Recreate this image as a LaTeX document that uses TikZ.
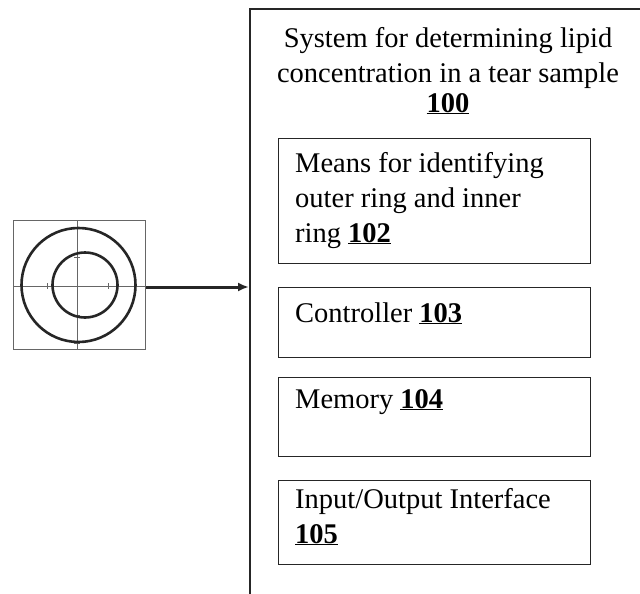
\documentclass[tikz,border=0pt]{standalone}
\usepackage{fontspec}
\setmainfont{Liberation Serif}
\usetikzlibrary{arrows.meta}
\newcommand{\refnum}[1]{\underline{\textbf{#1}}}
\begin{document}
\begin{tikzpicture}[x=1pt,y=-1pt,
  unitbox/.style={draw=black!85, line width=1.4pt, minimum width=312pt, anchor=north west, inner sep=0pt},
  label/.style={anchor=base west, inner sep=0pt, align=left, font=\fontsize{28.5}{35}\selectfont},
  ring/.style={line width=2.6pt, black!85},
  axis/.style={line width=0.6pt, black!60},
  tick/.style={line width=0.5pt, black!60}]
\useasboundingbox (0,0) rectangle (640,594);
\clip (0,0) rectangle (640,594);

% plot of the two rings
\node[draw=black!60, line width=0.9pt, minimum width=132pt, minimum height=129pt,
      anchor=north west, inner sep=0pt] (img) at (13,220) {};
\draw[axis] (13,286) -- (145,286);
\draw[axis] (77,220) -- (77,349);
\foreach \t in {22,47,108,135} \draw[tick] (\t,283) -- (\t,289);
\foreach \t in {228,257,315,343} \draw[tick] (74,\t) -- (80,\t);
\draw[ring] (78.5,285) circle (57);
\draw[ring] (85,285) circle (32.5);

% system enclosure (runs past the right and bottom edges)
\node[draw=black!85, line width=1.8pt, minimum width=430pt, minimum height=640pt,
      anchor=north west, inner sep=0pt] (sys) at (249,8) {};
\node[anchor=base, inner sep=0pt, align=center, font=\fontsize{28.5}{35}\selectfont]
  (title) at (448,112) {System for determining lipid\\concentration in a tear sample\\[-5pt]\refnum{100}};

% component blocks
\node[unitbox, minimum height=125pt] (b102) at (278,138) {};
\node[unitbox, minimum height=70pt]  (b103) at (278,287) {};
\node[unitbox, minimum height=79pt]  (b104) at (278,377) {};
\node[unitbox, minimum height=84pt]  (b105) at (278,480) {};

\node[label] (t102) at (295,242) {Means for identifying\\outer ring and inner\\ring \refnum{102}};
\node[label] (t103) at (295,322) {Controller \refnum{103}};
\node[label] (t104) at (295,408) {Memory \refnum{104}};
\node[label] (t105) at (295,543) {Input/Output Interface\\\refnum{105}};

% image fed into the system
\draw[line width=3pt, black!85, -{Latex[length=11pt,width=9pt]}] (img.east |- 0,287) -- (sys.west |- 0,287);
\end{tikzpicture}
\end{document}
